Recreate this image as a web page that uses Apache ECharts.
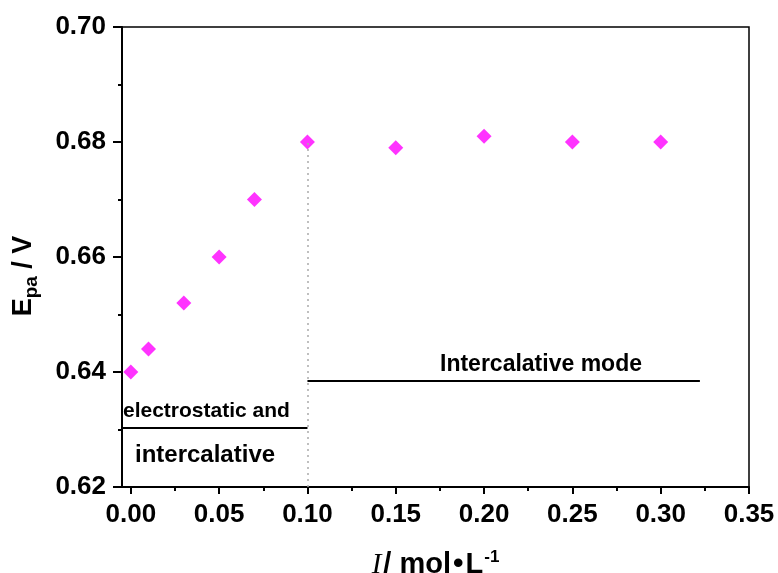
<!DOCTYPE html>
<html>
<head>
<meta charset="utf-8">
<script src="https://cdn.jsdelivr.net/npm/echarts@6/dist/echarts.min.js"></script>
<style>html,body{margin:0;padding:0;background:#fff}#c{width:778px;height:573px}</style>
</head>
<body>
<div id="c"></div>
<script>
var concentration = [0, 0.01, 0.03, 0.05, 0.07, 0.10, 0.15, 0.20, 0.25, 0.30];
var epa = [0.640, 0.644, 0.652, 0.660, 0.670, 0.680, 0.679, 0.681, 0.680, 0.680];
var xTicks = [0, 0.05, 0.10, 0.15, 0.20, 0.25, 0.30, 0.35];
var xMinorTicks = [0.025, 0.075, 0.125, 0.175, 0.225, 0.275, 0.325];
var dividerX = 0.10;
var leftBandY = 0.6303;
var rightBandY = 0.6384;
var rightBandEnd = 0.3222;

var FONT = 'Liberation Sans, Arial, sans-serif';
var chart = echarts.init(document.getElementById('c'));
var pts = concentration.map(function (x, i) { return [x, epa[i]]; });

chart.setOption({
  animation: false,
  backgroundColor: '#fff',
  grid: { left: 122, right: 29, top: 27, bottom: 86, containLabel: false, outerBoundsMode: 'none',
    show: true, borderColor: '#000', borderWidth: 1.5, backgroundColor: 'transparent' },
  xAxis: [{
    type: 'value', min: -0.005, max: 0.35,
    axisLine: { show: true, onZero: false, lineStyle: { color: '#000', width: 2 } },
    axisTick: { show: true, customValues: xTicks, length: 7, lineStyle: { color: '#000', width: 2 } },
    axisLabel: { customValues: xTicks, margin: 15, color: '#000', fontFamily: FONT, fontWeight: 'bold', fontSize: 26,
      formatter: function (v) { return v.toFixed(2); } },
    splitLine: { show: false },
    name: '{i|I}{n|/ mol}{b|•}{n|L}{s|-1}',
    nameLocation: 'middle', nameGap: 62,
    nameTextStyle: { rich: {
      i: { fontFamily: 'Liberation Serif, Times New Roman, serif', fontStyle: 'italic', fontSize: 29, color: '#000', padding: [0, 2, 0, 0] },
      n: { fontFamily: FONT, fontWeight: 'bold', fontSize: 29, color: '#000' },
      b: { fontFamily: FONT, fontWeight: 'bold', fontSize: 30, color: '#000', padding: [0, 2, 0, 2] },
      s: { fontFamily: FONT, fontWeight: 'bold', fontSize: 17, color: '#000', verticalAlign: 'top', padding: [0, 0, 15, 1] }
    } }
  }, {
    type: 'value', min: -0.005, max: 0.35, position: 'bottom',
    axisLine: { show: false },
    axisTick: { show: true, customValues: xMinorTicks, length: 4, lineStyle: { color: '#000', width: 2 } },
    axisLabel: { show: false }, splitLine: { show: false }
  }],
  yAxis: {
    type: 'value', min: 0.62, max: 0.70, interval: 0.02,
    axisLine: { show: true, onZero: false, lineStyle: { color: '#000', width: 2 } },
    axisTick: { show: true, length: 9, lineStyle: { color: '#000', width: 2 } },
    minorTick: { show: true, splitNumber: 2, length: 4, lineStyle: { color: '#000', width: 2 } },
    axisLabel: { margin: 16, color: '#000', fontFamily: FONT, fontWeight: 'bold', fontSize: 26,
      formatter: function (v) { return v.toFixed(2); } },
    splitLine: { show: false },
    name: '{e|E}{s|pa}{e| / V}',
    nameLocation: 'middle', nameGap: 81, nameRotate: 90,
    nameTextStyle: { padding: [0, 38, 0, 0], rich: {
      e: { fontFamily: FONT, fontWeight: 'bold', fontSize: 27, color: '#000' },
      s: { fontFamily: FONT, fontWeight: 'bold', fontSize: 19, color: '#000', verticalAlign: 'bottom', padding: [16, 0, 0, 0] }
    } }
  },
  series: [{
    type: 'scatter',
    data: pts,
    symbol: 'diamond', symbolSize: [15, 15],
    itemStyle: { color: '#ff00ff' },
    markLine: {
      silent: true, symbol: 'none', label: { show: false },
      data: [
        [{ coord: [dividerX, 0.62], lineStyle: { color: '#aaa', type: [2, 4], width: 1.5 } }, { coord: [dividerX, 0.68] }],
        [{ coord: [-0.005, leftBandY], lineStyle: { color: '#000', type: 'solid', width: 2 } }, { coord: [dividerX, leftBandY] }],
        [{ coord: [dividerX, rightBandY], lineStyle: { color: '#000', type: 'solid', width: 2 } }, { coord: [rightBandEnd, rightBandY] }]
      ]
    }
  }],
  graphic: [
    { type: 'text', left: 123, top: 401, style: { text: 'electrostatic and', font: 'bold 21px Liberation Sans, Arial, sans-serif', fill: '#000' } },
    { type: 'text', left: 135, top: 443, style: { text: 'intercalative', font: 'bold 24px Liberation Sans, Arial, sans-serif', fill: '#000' } },
    { type: 'text', left: 440, top: 353, style: { text: 'Intercalative mode', font: 'bold 23px Liberation Sans, Arial, sans-serif', fill: '#000' } }
  ]
});
</script>
</body>
</html>
